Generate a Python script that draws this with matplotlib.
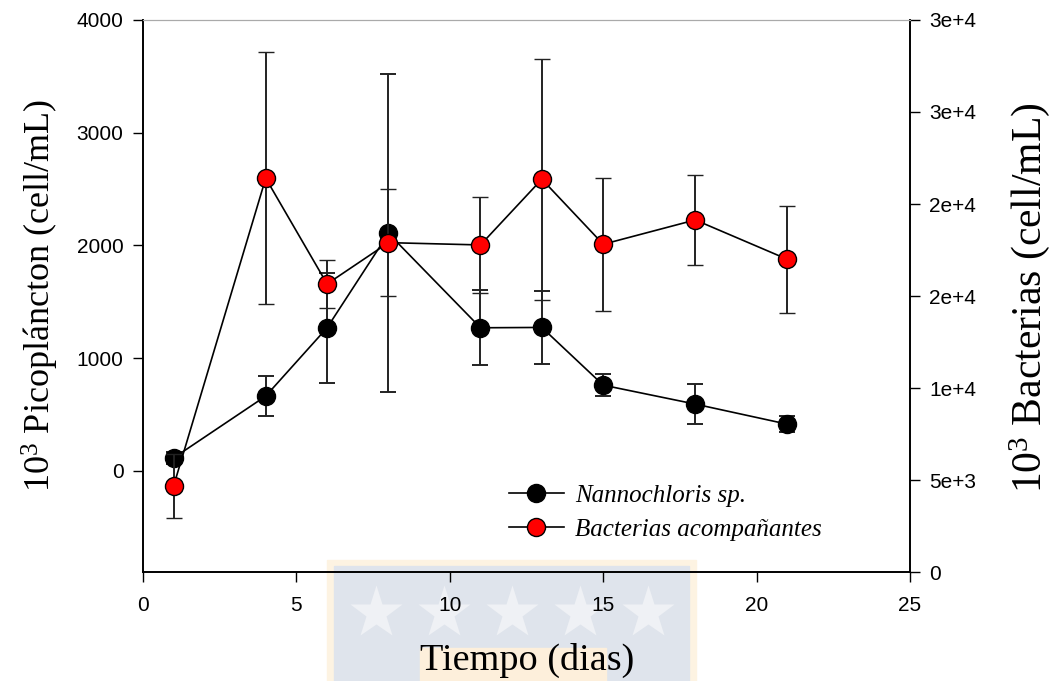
import matplotlib
matplotlib.use("Agg")
import matplotlib.pyplot as plt
from matplotlib.lines import Line2D
from matplotlib.patches import Rectangle

# ---------------- data ----------------
days = [1, 4, 6, 8, 11, 13, 15, 18, 21]
nanno = [115, 663, 1269, 2106, 1269, 1272, 760, 592, 414]
nanno_err = [50, 180, 488, 1411, 333, 320, 95, 180, 71]
bact = [4704, 21402, 15660, 17903, 17778, 21347, 17816, 19136, 17001]
bact_err = [1738, 6844, 1304, 2895, 2624, 6545, 3612, 2444, 2906]

x_ticks = [0, 5, 10, 15, 20, 25]
left_ticks = [0, 1000, 2000, 3000, 4000]
right_ticks = [0, 5000, 10000, 15000, 20000, 25000, 30000]
right_tick_labels = ["0", "5e+3", "1e+4", "2e+4", "2e+4", "3e+4", "3e+4"]
series_labels = ["Nannochloris sp.", "Bacterias acompañantes"]

plt.rcParams['mathtext.fontset'] = 'custom'
plt.rcParams['mathtext.rm'] = 'Liberation Serif'
plt.rcParams['mathtext.it'] = 'Liberation Serif:italic'

W, H = 1059, 681
fig = plt.figure(figsize=(W / 100, H / 100), dpi=100)

# faint watermark behind the x-axis label
def fx(px): return px / W
def fy(py): return 1 - py / H
fig.patches.append(Rectangle((fx(327), fy(681)), fx(696) - fx(327), fy(560) - fy(681),
                             transform=fig.transFigure, color='#fdf3e2', zorder=-10))
fig.patches.append(Rectangle((fx(334), fy(681)), fx(689) - fx(334), fy(566) - fy(681),
                             transform=fig.transFigure, color='#dfe4ec', zorder=-9))
fig.patches.append(Rectangle((fx(420), fy(681)), fx(606) - fx(420), fy(648) - fy(681),
                             transform=fig.transFigure, color='#fdefdb', zorder=-8))
for sx in [376, 444, 512, 580, 648]:
    fig.lines.append(Line2D([fx(sx)], [fy(613)], transform=fig.transFigure, marker='*',
                            markersize=40, color='#eff1f5', mec='none', zorder=-7))

ax = fig.add_axes([143 / W, 1 - 572.3 / H, (910 - 143) / W, (572.3 - 19.9) / H])
ax.set_facecolor('none')
ax2 = ax.twinx()

ax.errorbar(days, nanno, yerr=nanno_err, fmt='-o', color='black', mfc='black', mec='black',
            ms=13, lw=1.2, ecolor='#222222', elinewidth=1.4, capsize=6, capthick=1.4, zorder=3)
ax2.errorbar(days, bact, yerr=bact_err, fmt='-o', color='black', mfc='red', mec='black',
             mew=1.0, ms=13, lw=1.2, ecolor='#222222', elinewidth=1.4, capsize=6, capthick=1.4,
             zorder=3)

ax.set_xlim(0, 25)
ax.set_ylim(-900, 4000)
ax2.set_ylim(0, 30000)
ax.set_xticks(x_ticks)
ax.set_xticklabels([str(t) for t in x_ticks])
ax.set_yticks(left_ticks)
ax.set_yticklabels([str(t) for t in left_ticks])
ax2.set_yticks(right_ticks)
ax2.set_yticklabels(right_tick_labels)

tick_font = 'Liberation Sans'
for a in (ax, ax2):
    a.tick_params(direction='out', length=7, width=1, labelsize=15, pad=7)
    for lab in a.get_xticklabels() + a.get_yticklabels():
        lab.set_fontfamily(tick_font)
    a.spines['top'].set_color('#aaaaaa')
    for s in ('left', 'right', 'bottom'):
        a.spines[s].set_linewidth(1.2)
ax.tick_params(axis='x', pad=10)

serif = 'Liberation Serif'
fig.text(527 / W, 1 - 660 / H, 'Tiempo (dias)', fontsize=27.5, family=serif,
         ha='center', va='center')
fig.text(40 / W, 1 - 295 / H, r'$10^3$ Picopláncton (cell/mL)',
         fontsize=26, family=serif, rotation=90, ha='center', va='center')
fig.text(1030 / W, 1 - 298 / H, r'$10^3$ Bacterias (cell/mL)', fontsize=30, family=serif,
         rotation=90, ha='center', va='center')

handles = [
    Line2D([0], [0], color='black', lw=1.2, marker='o', ms=13, mfc='black', mec='black'),
    Line2D([0], [0], color='black', lw=1.2, marker='o', ms=13, mfc='red', mec='black'),
]
leg = ax2.legend(handles, series_labels, loc='upper left',
                 bbox_to_anchor=(486 / W, 1 - 462 / H), bbox_transform=fig.transFigure,
                 frameon=False, handlelength=2.2, handletextpad=0.45, labelspacing=0.45,
                 prop={'family': serif, 'style': 'italic', 'size': 18})

fig.savefig('out.png', dpi=100)
